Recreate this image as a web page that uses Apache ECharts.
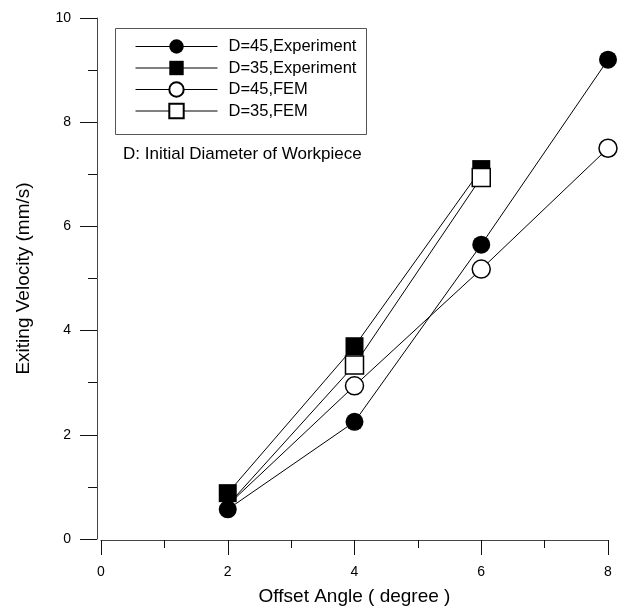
<!DOCTYPE html>
<html><head><meta charset="utf-8">
<script src="https://cdn.jsdelivr.net/npm/echarts@6/dist/echarts.min.js"></script>
<style>html,body{margin:0;padding:0;background:#fff}#c{width:626px;height:609px}</style>
</head><body><div id="c"></div>
<script>
const xTicks = [0, 2, 4, 6, 8];
const angles = [2, 4, 6, 8];
const d45Exp = [0.57, 2.25, 5.65, 9.2];
const d35Exp = [0.88, 3.7, 7.1];
const d45Fem = [0.65, 2.94, 5.18, 7.5];
const d35Fem = [0.65, 3.34, 6.94];
const names = ['D=45,Experiment', 'D=35,Experiment', 'D=45,FEM', 'D=35,FEM'];
const note = 'D: Initial Diameter of Workpiece';
const xName = 'Offset Angle ( degree )';
const yName = 'Exiting Velocity (mm/s)';

const font = 'Liberation Sans, Arial, sans-serif';
function pts(vals, hideFirst) {
  return vals.map((v, i) => {
    const item = { value: [angles[i], v] };
    if (hideFirst && i === 0) item.symbol = 'none';
    return item;
  });
}
function mk(name, vals, symbol, filled, hideFirst) {
  return {
    name, type: 'line', data: pts(vals, hideFirst), symbol, symbolSize: 18,
    showSymbol: true,
    lineStyle: { color: '#000', width: 1 },
    itemStyle: filled ? { color: '#000', borderColor: '#000', borderWidth: 0 }
                      : { color: '#fff', borderColor: '#000', borderWidth: 1.5 },
    emphasis: { disabled: true }, animation: false
  };
}
const chart = echarts.init(document.getElementById('c'));
chart.setOption({
  animation: false,
  grid: { left: 101, right: 18, top: 18, bottom: 70, containLabel: false, outerBoundsMode: 'none' },
  xAxis: {
    type: 'value', min: 0, max: 8, interval: 2, offset: 1,
    name: xName, nameLocation: 'middle', nameGap: 47,
    nameTextStyle: { fontFamily: font, fontSize: 19, color: '#000' },
    axisLine: { show: true, onZero: false, lineStyle: { color: '#444', width: 1 } },
    axisTick: { show: true, inside: false, length: 15, lineStyle: { color: '#111' } },
    minorTick: { show: true, splitNumber: 2, length: 8, lineStyle: { color: '#111' } },
    axisLabel: { fontFamily: font, fontSize: 14, color: '#000', margin: 25,
      formatter: v => xTicks.includes(v) ? String(v) : '' },
    splitLine: { show: false }, minorSplitLine: { show: false }
  },
  yAxis: {
    type: 'value', min: 0, max: 10, interval: 2, offset: 4,
    name: yName, nameLocation: 'middle', nameGap: 64,
    nameTextStyle: { fontFamily: font, fontSize: 19, color: '#000' },
    axisLine: { show: true, onZero: false, lineStyle: { color: '#444', width: 1 } },
    axisTick: { show: true, length: 17, lineStyle: { color: '#111' } },
    minorTick: { show: true, splitNumber: 2, length: 9, lineStyle: { color: '#111' } },
    axisLabel: { fontFamily: font, fontSize: 14, color: '#000', margin: 26 },
    splitLine: { show: false }, minorSplitLine: { show: false }
  },
  legend: {
    orient: 'vertical', left: 130, top: 33, itemWidth: 82, itemHeight: 18, itemGap: 4.5,
    data: names, selectedMode: false,
    lineStyle: { width: 1 },
    textStyle: { fontFamily: font, fontSize: 16.5, color: '#000', padding: [0, 0, 0, 6] }
  },
  graphic: [
    { type: 'rect', shape: { x: 115.5, y: 28.5, width: 251, height: 106 },
      style: { fill: 'none', stroke: '#555', lineWidth: 1 }, z: 0 },
    { type: 'text', left: 123, top: 146,
      style: { text: note, font: '17px ' + font, fill: '#000' } }
  ],
  series: [
    mk(names[0], d45Exp, 'circle', true, false),
    mk(names[1], d35Exp, 'rect', true, false),
    mk(names[2], d45Fem, 'circle', false, true),
    mk(names[3], d35Fem, 'rect', false, true)
  ]
});
</script></body></html>
